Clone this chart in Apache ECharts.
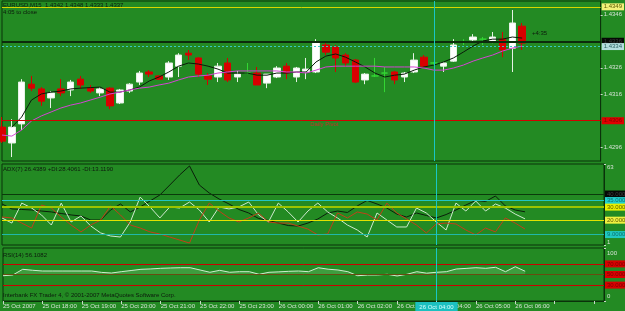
<!DOCTYPE html>
<html><head><meta charset="utf-8">
<script src="https://cdn.jsdelivr.net/npm/echarts@6/dist/echarts.min.js"></script>
<style>html,body{margin:0;padding:0;background:#238a23;overflow:hidden}#c{width:625px;height:311px}</style>
</head><body><div id="c"></div>
<script>
// ---------- data ----------
const openP  = [1.43036,1.42976,1.43048,1.43198,1.43180,1.43146,1.43180,1.43176,1.43217,1.43183,1.43165,1.43183,1.43127,1.43172,1.43206,1.43244,1.43229,1.43225,1.43266,1.43315,1.43297,1.43229,1.43225,1.43278,1.43225,1.43240,1.43240,1.43202,1.43225,1.43266,1.43225,1.43244,1.43244,1.43346,1.43338,1.43308,1.43289,1.43214,1.43229,1.43240,1.43244,1.43225,1.43244,1.43300,1.43278,1.43266,1.43285,1.43357,1.43365,1.43368,1.43357,1.43368,1.43334,1.43417];
const closeP = [1.42983,1.43036,1.43206,1.43183,1.43134,1.43165,1.43165,1.43206,1.43195,1.43172,1.43180,1.43116,1.43176,1.43198,1.43240,1.43236,1.43217,1.43278,1.43308,1.43308,1.43236,1.43217,1.43266,1.43214,1.43236,1.43240,1.43195,1.43236,1.43259,1.43240,1.43259,1.43255,1.43357,1.43319,1.43297,1.43278,1.43206,1.43236,1.43229,1.43240,1.43214,1.43240,1.43289,1.43266,1.43278,1.43278,1.43346,1.43357,1.43376,1.43368,1.43376,1.43327,1.43429,1.43353];
const lowP   = [1.42976,1.42923,1.43025,1.43172,1.43116,1.43108,1.43153,1.43153,1.43180,1.43165,1.43153,1.43104,1.43123,1.43165,1.43195,1.43225,1.43214,1.43214,1.43225,1.43289,1.43225,1.43195,1.43206,1.43206,1.43206,1.43236,1.43195,1.43183,1.43221,1.43217,1.43206,1.43217,1.43240,1.43308,1.43244,1.43266,1.43202,1.43198,1.43225,1.43168,1.43198,1.43206,1.43240,1.43263,1.43270,1.43244,1.43282,1.43346,1.43357,1.43346,1.43353,1.43300,1.43244,1.43327];
const highP  = [1.43074,1.43066,1.43217,1.43229,1.43187,1.43172,1.43217,1.43214,1.43229,1.43195,1.43187,1.43187,1.43180,1.43202,1.43248,1.43251,1.43232,1.43285,1.43315,1.43327,1.43300,1.43240,1.43278,1.43297,1.43248,1.43278,1.43263,1.43236,1.43266,1.43278,1.43263,1.43297,1.43368,1.43353,1.43346,1.43315,1.43293,1.43240,1.43297,1.43263,1.43248,1.43244,1.43315,1.43308,1.43282,1.43282,1.43368,1.43368,1.43387,1.43376,1.43395,1.43395,1.43478,1.43429];
const fastMA = ['-',1.43036,1.43074,1.43138,1.43161,1.43168,1.43172,1.43180,1.43183,1.43185,1.43187,1.43168,1.43168,1.43176,1.43187,1.43210,1.43225,1.43244,1.43266,1.43278,1.43274,1.43266,1.43255,1.43240,1.43240,1.43240,1.43232,1.43232,1.43240,1.43240,1.43244,1.43244,1.43282,1.43304,1.43312,1.43300,1.43282,1.43263,1.43240,1.43225,1.43232,1.43236,1.43251,1.43263,1.43270,1.43282,1.43297,1.43319,1.43342,1.43361,1.43368,1.43368,1.43376,1.43372];
const slowMA = [1.43006,1.43002,1.43025,1.43059,1.43078,1.43093,1.43108,1.43119,1.43127,1.43138,1.43149,1.43161,1.43168,1.43176,1.43183,1.43187,1.43195,1.43202,1.43214,1.43225,1.43229,1.43232,1.43240,1.43244,1.43248,1.43248,1.43248,1.43248,1.43248,1.43244,1.43244,1.43240,1.43251,1.43263,1.43266,1.43266,1.43266,1.43266,1.43266,1.43263,1.43263,1.43263,1.43263,1.43259,1.43251,1.43251,1.43259,1.43270,1.43285,1.43297,1.43308,1.43323,1.43334,1.43342];
const adxMain = [32.4,28.6,28.2,27.8,27.0,26.3,25.1,24.0,23.2,20.1,20.1,27.8,32.4,26.3,30.1,34.7,39.3,46.9,54.6,61.5,46.9,40.8,36.2,32.4,28.2,25.5,21.3,19.8,17.8,15.9,15.5,17.8,20.9,25.5,27.0,25.9,30.9,35.1,32.4,29.3,24.7,22.4,25.5,23.6,21.7,24.3,27.8,31.6,35.1,34.3,38.5,30.9,27.8,26.4];
const plusDI  = [21.7,17.8,33.1,29.3,24.0,16.3,33.1,18.6,23.2,15.5,10.2,7.9,7.1,18.6,37.7,30.1,21.7,30.1,29.3,33.9,27.8,18.6,30.1,28.6,30.1,33.9,24.0,18.6,33.1,26.3,18.6,27.0,33.1,26.3,21.7,16.3,12.5,7.1,25.5,20.1,14.8,14.8,29.3,25.5,18.6,12.5,33.1,27.0,34.7,27.0,32.4,29.3,24.7,21.0];
const minusDI = [22.4,21.7,17.8,14.0,31.6,29.3,22.4,16.3,11.0,16.3,20.1,30.9,24.0,16.3,14.0,11.0,9.4,7.1,4.8,2.5,20.1,33.1,27.0,21.7,18.6,21.7,25.5,18.6,17.8,17.8,15.5,13.2,8.7,9.4,25.5,21.7,26.3,24.7,20.1,33.1,25.5,20.9,16.3,10.2,17.1,17.8,17.1,12.5,8.7,14.0,11.0,21.7,17.8,13.2];
const rsiVals = [47.7,49.1,59.8,58.0,56.6,56.6,56.6,56.6,56.6,56.6,54.0,52.8,55.3,57.5,59.8,60.5,61.7,62.3,62.8,62.8,58.5,54.2,57.9,54.2,55.3,55.3,50.4,54.2,55.0,56.0,56.6,55.3,62.8,60.0,58.5,55.3,47.7,49.0,49.1,50.4,47.2,50.4,55.3,52.5,54.2,55.3,60.4,61.5,62.8,61.7,63.6,55.3,64.7,56.1];
const tickLabels = ['25 Oct 2007','25 Oct 18:00','25 Oct 19:00','25 Oct 20:00','25 Oct 21:00','25 Oct 22:00','25 Oct 23:00','26 Oct 00:00','26 Oct 01:00','26 Oct 02:00','26 Oct 03:00','26 Oct 04:00','26 Oct 05:00','26 Oct 06:00'];
const priceTicks = [1.4296,1.4316,1.4326,1.4346];
const mainLevels = [1.4349,1.4336,1.4334,1.4306]; // yellow, bid, ask(dotted), daily pivot
const adxLevels = [40,35,30,20,9];
const rsiLevels = [70,50,30];
const priceRange = [1.42908,1.43512];
const adxRange = [1,63];
const cursorIndex = 44;
const cursorText = '26 Oct 04:00';
const slotCount = 62;
const barsPerTick = 4;
const headerText = 'EURUSD,M15  1.4342 1.4348 1.4333 1.4337';
const closeText = '4:05 to close';
const pivotText = 'Daily Pivot';
const adxHeader = [26.4389, 28.4061, 13.1190];
const rsiHeader = 56.1082;
const spreadText = '+4:35';
const copyright = 'Interbank FX Trader 4, \u00a9 2001-2007 MetaQuotes Software Corp.';

// ---------- chart ----------
const F = 'Liberation Sans';
const cats = Array.from({length: slotCount}, (_, i) => String(i));
const candleData = openP.map((o, i) => {
  const item = {value: [o, closeP[i], lowP[i], highP[i]]};
  if (o === closeP[i]) item.itemStyle = {color: '#33d633', borderColor: '#33d633', color0: '#33d633', borderColor0: '#33d633'};
  return item;
});
const boxLabel = (bg, fg, digits) => ({show: true, position: 'end', distance: 1, backgroundColor: bg, color: fg,
  fontSize: 6, fontFamily: F, padding: [1, 2, 0, 2], lineHeight: 6,
  formatter: p => Number(p.value).toFixed(digits)});
const mainStyles = [
  {line: {color: '#d6d600', width: 1, type: 'solid'}, bg: '#f2f27a', fg: '#5a5a00'},
  {line: {color: '#0c2c0c', width: 2, type: 'solid'}, bg: '#050805', fg: '#3a3a3a'},
  {line: {color: '#3cc6c6', width: 1, type: [2, 2]}, bg: '#b4dede', fg: '#2a6060'},
  {line: {color: '#d40000', width: 1, type: 'solid'}, bg: '#e00000', fg: '#800000'}
];
const adxStyles = [
  {line: {color: '#0b3a0b', width: 1, type: 'solid'}, bg: '#060806', fg: '#404040'},
  {line: {color: '#22c4c4', width: 1, type: 'solid'}, bg: '#22d0d0', fg: '#0a7070'},
  {line: {color: '#9cc400', width: 2, type: 'solid'}, bg: '#eaf000', fg: '#5a5a00'},
  {line: {color: '#e2e200', width: 1, type: 'solid'}, bg: '#f0f040', fg: '#5a5a00'},
  {line: {color: '#20b8a8', width: 1, type: 'solid'}, bg: '#20c8c0', fg: '#0a7070'}
];
const rsiStyles = [
  {line: {color: '#cc0000', width: 1, type: 'solid'}, bg: '#d80000', fg: '#7a0000'},
  {line: {color: '#6a4a10', width: 1, type: 'solid'}, bg: '#d80000', fg: '#7a0000'},
  {line: {color: '#cc0000', width: 1, type: 'solid'}, bg: '#d80000', fg: '#7a0000'}
];
const cursorLine = () => ({xAxis: cursorIndex, lineStyle: {color: '#19c6c6', width: 1, type: 'solid'}, label: {show: false}});

const gridCommon = {left: 2, right: 21, show: true, borderColor: '#0a320a', borderWidth: 1, backgroundColor: 'transparent'};
const xCommon = (gi, showLabels) => ({
  type: 'category', gridIndex: gi, data: cats, boundaryGap: false,
  axisLine: {show: showLabels, lineStyle: {color: '#0a320a'}},
  axisTick: {show: showLabels, interval: barsPerTick - 1, length: 3, lineStyle: {color: '#c8d8c8'}},
  axisLabel: {show: showLabels, interval: barsPerTick - 1, align: 'left', margin: 2, fontSize: 6, fontFamily: F, color: '#d6e2d6',
    formatter: (v, idx) => (idx % barsPerTick === 0 && idx / barsPerTick < tickLabels.length) ? tickLabels[idx / barsPerTick] : ''},
  splitLine: {show: false}
});
// edge labels of the small panes sit a few pixels inside the pane, as in the terminal
const yCommon = (gi, min, max, values, digits, inset) => {
  const lab = {show: true, customValues: values, fontSize: 6, fontFamily: F, color: '#d6e2d6', margin: 3,
    formatter: v => Number(v).toFixed(digits)};
  if (inset) {
    lab.formatter = v => (v === max ? '{hi|' : v === min ? '{lo|' : '{n|') + Number(v).toFixed(digits) + '}';
    lab.rich = {hi: {padding: [inset * 2, 0, 0, 0], fontSize: 6, color: '#d6e2d6'},
                lo: {padding: [0, 0, inset * 2, 0], fontSize: 6, color: '#d6e2d6'},
                n: {fontSize: 6, color: '#d6e2d6'}};
  }
  return {
    type: 'value', gridIndex: gi, position: 'right', min, max,
    axisLine: {show: true, lineStyle: {color: '#0a320a'}},
    axisTick: {show: true, length: 2, customValues: values, lineStyle: {color: '#c8d8c8'}},
    axisLabel: lab,
    splitLine: {show: false}
  };
};
const txt = {fontSize: 6, fontFamily: F, color: '#0d1a0d', fontWeight: 'normal', lineHeight: 7};
const hl = (v, st) => ({yAxis: v, lineStyle: st.line, label: boxLabel(st.bg, st.fg, 4)});

const option = {
  animation: false,
  backgroundColor: '#238a23',
  textStyle: {fontFamily: F},
  title: [
    {text: headerText + '\n' + closeText, left: 3, top: 2, textStyle: txt, padding: 0},
    {text: 'ADX(7) ' + adxHeader[0].toFixed(4) + ' +DI:' + adxHeader[1].toFixed(4) + ' -DI:' + adxHeader[2].toFixed(4), left: 3, top: 166, textStyle: txt, padding: 0},
    {text: 'RSI(14) ' + rsiHeader.toFixed(4), left: 3, top: 252, textStyle: txt, padding: 0},
    {text: copyright, left: 3, top: 292, textStyle: txt, padding: 0},
    {text: spreadText, left: 532, top: 30, textStyle: txt, padding: 0}
  ],
  grid: [
    Object.assign({top: 1, height: 160}, gridCommon),
    Object.assign({top: 164, height: 81}, gridCommon),
    Object.assign({top: 248, height: 53}, gridCommon)
  ],
  xAxis: [xCommon(0, false), xCommon(1, false), xCommon(2, true)],
  yAxis: [
    yCommon(0, priceRange[0], priceRange[1], priceTicks, 4, 0),
    yCommon(1, adxRange[0], adxRange[1], [adxRange[1], adxRange[0]], 0, 3),
    yCommon(2, 0, 100, [100, 0], 0, 5)
  ],
  series: [
    {type: 'candlestick', xAxisIndex: 0, yAxisIndex: 0, barWidth: 7, data: candleData,
      itemStyle: {color: '#ffffff', borderColor: '#e6f2e6', color0: '#d80000', borderColor0: '#d80000', borderWidth: 1}},
    {type: 'line', xAxisIndex: 0, yAxisIndex: 0, data: fastMA, symbol: 'none', lineStyle: {color: '#0a1a0a', width: 1}, z: 3,
      markLine: {symbol: ['none', 'none'], silent: true, precision: 5,
        data: mainLevels.map((v, i) => hl(v, mainStyles[i])).concat([cursorLine()])}},
    {type: 'line', xAxisIndex: 0, yAxisIndex: 0, data: slowMA, symbol: 'none', lineStyle: {color: '#d444d4', width: 1}, z: 3,
      markLine: {symbol: ['none', 'none'], silent: true, precision: 5,
        data: [{yAxis: mainLevels[3], lineStyle: {color: 'rgba(0,0,0,0)', width: 1}, label: {show: true, position: 'insideMiddleBottom', distance: 1, offset: [23, 0],
          formatter: pivotText, color: '#c83228', fontSize: 6, fontFamily: F}}]}},
    {type: 'line', xAxisIndex: 1, yAxisIndex: 1, data: adxMain, symbol: 'none', lineStyle: {color: '#0a1e0a', width: 1}, z: 3,
      markLine: {symbol: ['none', 'none'], silent: true, precision: 4,
        data: adxLevels.map((v, i) => hl(v, adxStyles[i])).concat([cursorLine()])}},
    {type: 'line', xAxisIndex: 1, yAxisIndex: 1, data: plusDI, symbol: 'none', lineStyle: {color: '#cfeacf', width: 1}, z: 3},
    {type: 'line', xAxisIndex: 1, yAxisIndex: 1, data: minusDI, symbol: 'none', lineStyle: {color: '#c2401a', width: 1}, z: 3},
    {type: 'line', xAxisIndex: 2, yAxisIndex: 2, data: rsiVals, symbol: 'none', lineStyle: {width: 1, color: '#cdeecd'}, z: 3,
      areaStyle: {origin: 50, color: 'rgba(150,220,150,0.35)'},
      markLine: {symbol: ['none', 'none'], silent: true, precision: 4,
        data: rsiLevels.map((v, i) => hl(v, rsiStyles[i]))
          .concat([{xAxis: cursorIndex, lineStyle: {color: '#19c6c6', width: 1, type: 'solid'},
            label: {show: true, position: 'start', distance: 1, formatter: cursorText, backgroundColor: '#1cc0c0', color: '#d8ffff',
              fontSize: 6, fontFamily: F, padding: [2, 4, 1, 4]}}])}}
  ]
};
const chart = echarts.init(document.getElementById('c'), null, {renderer: 'canvas', width: 625, height: 311});
chart.setOption(option);
</script>
</body></html>
